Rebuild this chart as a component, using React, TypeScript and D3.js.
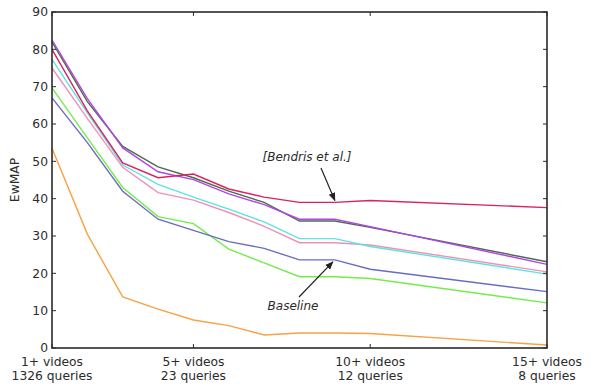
import React from 'react';
import * as d3 from 'd3';

// x positions are minimum video counts per query
const videoCounts = [1, 2, 3, 4, 5, 6, 7, 8, 9, 10, 15];

const darkGreenSeries = [82, 66, 54, 48.5, 45.6, 42, 39, 34, 34, 32.3, 23.1];
const purpleSeries = [82.5, 66.8, 53.6, 47.2, 45.1, 41.3, 38.4, 34.5, 34.5, 32.5, 22.4];
const redSeries = [80, 63.5, 49.6, 45.6, 46.6, 42.6, 40.4, 39, 39, 39.5, 37.6];
const cyanSeries = [77.3, 63, 49, 43.8, 40.4, 37.2, 33.8, 29.3, 29.3, 27.2, 19.8];
const pinkSeries = [75, 61.5, 48.4, 41.6, 39.6, 36.3, 32.6, 28.2, 28.2, 27.6, 20.4];
const greenSeries = [69.7, 56.3, 43, 35.2, 33.3, 26.5, 22.8, 19.1, 19.1, 18.6, 12.1];
const blueSeries = [67, 55, 42, 34.5, 31.5, 28.5, 26.7, 23.6, 23.6, 21.1, 15.1];
const orangeSeries = [53.5, 30.5, 13.7, 10.4, 7.5, 6, 3.5, 4, 4, 3.9, 0.8];

const yTicks = [0, 10, 20, 30, 40, 50, 60, 70, 80, 90];
const xTicks = [1, 5, 10, 15];
const xTickVideos = ['1+ videos', '5+ videos', '10+ videos', '15+ videos'];
const xTickQueries = ['1326 queries', '23 queries', '12 queries', '8 queries'];

const series = [
  { name: 'orange', values: orangeSeries, color: '#f7a244' },
  { name: 'green', values: greenSeries, color: '#74ec48' },
  { name: 'blue', values: blueSeries, color: '#6a6cc2' },
  { name: 'pink', values: pinkSeries, color: '#f290b4' },
  { name: 'cyan', values: cyanSeries, color: '#5ae4e4' },
  { name: 'darkgreen', values: darkGreenSeries, color: '#4d6b4d' },
  { name: 'purple', values: purpleSeries, color: '#b044e4' },
  { name: 'red', values: redSeries, color: '#d8245e' },
];

const width = 595;
const height = 387;
const margin = { top: 12, right: 48, bottom: 39, left: 52 };
const font = 'DejaVu Sans, sans-serif';
const axisColor = '#2b2b2b';
const fontSize = 12.3;

const App: React.FC = () => {
  const x = d3.scaleLinear().domain([1, 15]).range([margin.left, width - margin.right]);
  const y = d3.scaleLinear().domain([0, 90]).range([height - margin.bottom, margin.top]);

  const line = d3.line<number>()
    .x((_, i) => x(videoCounts[i]))
    .y(d => y(d));

  const left = x(1);
  const right = x(15);
  const top = y(90);
  const bottom = y(0);
  const tickLen = 4;

  // annotation anchors on the data
  const bendrisTip = { x: x(9), y: y(redSeries[8]) };
  const baselineTip = { x: x(9) - 2, y: y(blueSeries[8]) };

  return (
    <svg width={width} height={height} style={{ position: 'absolute', left: 0, top: 0, background: '#fff' }}>
      <defs>
        <marker id="arrow" viewBox="0 0 10 10" refX="9" refY="5" markerWidth="7" markerHeight="7" orient="auto">
          <path d="M0,1 L10,5 L0,9 z" fill="#222" />
        </marker>
      </defs>

      {series.map(s => (
        <path key={s.name} d={line(s.values) || ''} fill="none" stroke={s.color} strokeWidth={1.4} />
      ))}

      {/* frame */}
      <rect x={left} y={top} width={right - left} height={bottom - top} fill="none" stroke={axisColor} strokeWidth={1.6} />

      {/* y ticks, both sides, pointing inward */}
      {yTicks.map(t => (
        <g key={t}>
          <line x1={left} x2={left + tickLen} y1={y(t)} y2={y(t)} stroke={axisColor} strokeWidth={1} />
          <line x1={right} x2={right - tickLen} y1={y(t)} y2={y(t)} stroke={axisColor} strokeWidth={1} />
          <text x={left - 4} y={y(t)} dy="0.36em" textAnchor="end" fontFamily={font} fontSize={fontSize} fill={axisColor}>
            {t}
          </text>
        </g>
      ))}

      {/* x ticks, top and bottom */}
      {xTicks.map((t, i) => (
        <g key={t}>
          <line x1={x(t)} x2={x(t)} y1={bottom} y2={bottom - tickLen} stroke={axisColor} strokeWidth={1} />
          <line x1={x(t)} x2={x(t)} y1={top} y2={top + tickLen} stroke={axisColor} strokeWidth={1} />
          <text x={x(t)} y={bottom + 17.5} textAnchor="middle" fontFamily={font} fontSize={fontSize} fill={axisColor}>
            {xTickVideos[i]}
          </text>
          <text x={x(t)} y={bottom + 32} textAnchor="middle" fontFamily={font} fontSize={fontSize} fill={axisColor}>
            {xTickQueries[i]}
          </text>
        </g>
      ))}

      <text
        transform={`translate(19,${(top + bottom) / 2}) rotate(-90)`}
        textAnchor="middle"
        fontFamily={font}
        fontSize={fontSize}
        fill={axisColor}
      >
        EwMAP
      </text>

      {/* annotations */}
      <text x={307} y={161} textAnchor="middle" fontFamily={font} fontSize={12} fontStyle="italic" fill={axisColor}>
        [Bendris et al.]
      </text>
      <line x1={321} y1={168} x2={bendrisTip.x} y2={bendrisTip.y - 2} stroke="#222" strokeWidth={1.2} markerEnd="url(#arrow)" />

      <text x={293} y={310} textAnchor="middle" fontFamily={font} fontSize={12} fontStyle="italic" fill={axisColor}>
        Baseline
      </text>
      <line x1={299} y1={297} x2={baselineTip.x} y2={baselineTip.y + 2} stroke="#222" strokeWidth={1.2} markerEnd="url(#arrow)" />
    </svg>
  );
};

export default App;
